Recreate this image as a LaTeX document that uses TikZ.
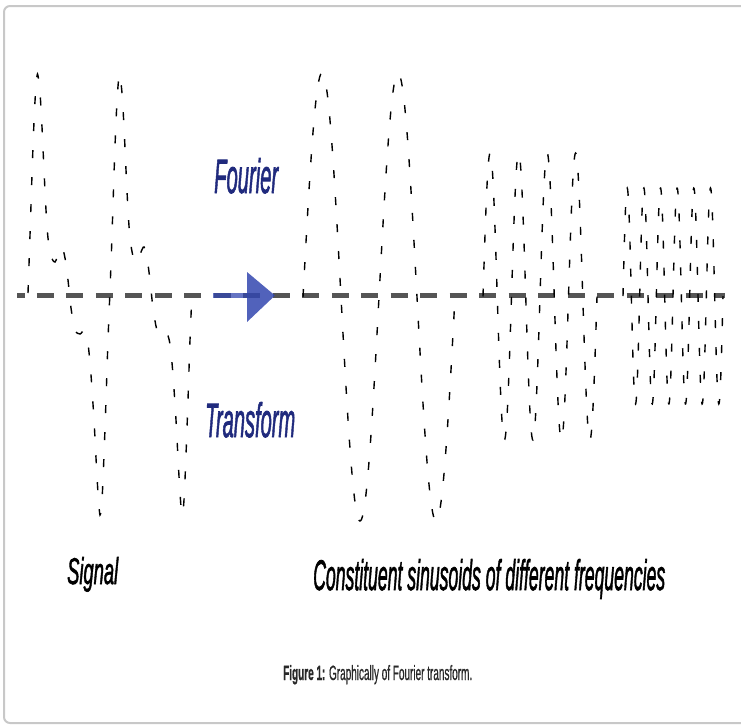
\documentclass[tikz,border=0pt]{standalone}
\usepackage{fontspec}
\setmainfont{Liberation Sans}
\usepackage{graphicx}
\definecolor{navytext}{RGB}{32,42,125}
\definecolor{arrowblue}{RGB}{50,70,175}
\definecolor{axisgray}{RGB}{85,85,85}
\definecolor{framegray}{RGB}{200,200,200}
\definecolor{captiongray}{RGB}{40,40,40}
\tikzset{
  wave/.style={black, line width=1.4pt, dash pattern=on 8pt off 19pt},
  axisline/.style={axisgray, line width=5pt, dash pattern=on 17pt off 12.48pt, dash phase=9.5pt},
  bluelabel/.style={navytext, font=\itshape\addfontfeature{FakeBold=2}, inner sep=0pt, anchor=base west},
  blacklabel/.style={black, font=\itshape\addfontfeature{FakeBold=2}, inner sep=0pt, anchor=base west},
  captionlabel/.style={captiongray, font=\addfontfeature{FakeBold=1}, inner sep=0pt, anchor=base west},
  framebox/.style={framegray, line width=2pt, rounded corners=6pt},
  arrowshaft/.style={arrowblue, opacity=0.75, line width=5pt},
  arrowhead/.style={arrowblue, opacity=0.85}
}
\begin{document}
\begin{tikzpicture}[x=1pt, y=-1pt]
\useasboundingbox (0,0) rectangle (741,726);
% frame
\draw[framebox] (4,6) rectangle (760,723);
% axis
\coordinate (axL) at (17,295.5);
\coordinate (axR) at (725,295.5);
\draw[axisline] (axL) -- (axR);
% arrow
\coordinate (shaftL) at (213,295.5);
\coordinate (shaftR) at (248,295.5);
\draw[arrowshaft] (shaftL) -- (shaftR);
\coordinate (headT) at (247,272);
\coordinate (headP) at (275,295.5);
\coordinate (headB) at (247,322);
\fill[arrowhead] (headT) -- (headP) -- (headB) -- cycle;
% signal
\draw[wave] plot[smooth] coordinates {
 (28,293) (29.5,250) (31,205) (32.5,160) (34,122) (35.5,93) (37.5,74)
 (40,93) (42,127) (44,170) (46,210) (48,238) (51,256) (55,262) (59,252) (62,247)
 (65,258) (68,280) (71,308) (75,330) (80,334) (84,331) (88,344) (91,375) (94,420)
 (96,458) (98,493) (100,515)
 (102,500) (104,455) (106,400) (108,340) (110,290) (111.5,250) (113,205) (114.5,160)
 (116,122) (117.5,93) (119.5,74)
 (122,93) (124,127) (126,170) (128,210) (130,238) (133,256) (137,262) (141,252) (144,247)
 (147,258) (150,280) (153,308) (157,330) (162,334) (166,331) (170,344) (173,375) (176,420)
 (178,458) (180,493) (182,515)
 (184,500) (186,455) (188,400) (190,340) (192,293)
};
% constituent sinusoids
\draw[wave] plot[domain=303:455, samples=240] (\x, {297-224*sin((\x-303)*4.7368)});
\draw[wave] plot[domain=483:597, samples=300] (\x, {296.5-143.5*sin((\x-483)*12.6316)});
\draw[wave] plot[domain=623:723, samples=360] (\x, {296-108*sin((\x-623)*21.6)});
% labels
\node[bluelabel] (fourier) at (214,193) {\resizebox{64pt}{35pt}{Fourier}};
\node[bluelabel] (transform) at (205,437) {\resizebox{90pt}{35pt}{Transform}};
\node[blacklabel] (signal) at (67,584) {\resizebox{51pt}{27pt}{Signal}};
\node[blacklabel] (constituent) at (313,590) {\resizebox{352pt}{31pt}{Constituent sinusoids of different frequencies}};
\node[captionlabel] (caption) at (283,680) {\resizebox{189pt}{15pt}{\textbf{Figure 1:} Graphically of Fourier transform.}};
\end{tikzpicture}
\end{document}
